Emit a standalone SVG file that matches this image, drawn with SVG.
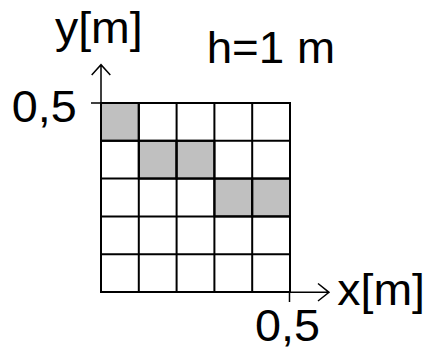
<svg xmlns="http://www.w3.org/2000/svg" width="430" height="348" viewBox="0 0 430 348">
<style>
text{font-family:"Liberation Sans",Arial,sans-serif;font-size:44px;fill:#000}
.cell{fill:#fff;stroke:#000;stroke-width:2}
.g{fill:#c0c0c0}
.ax{fill:none;stroke:#000;stroke-width:1.5}
</style>
<rect width="430" height="348" fill="#fff"/>
<g id="grid">
<rect class="cell" x="101" y="103" width="189" height="189"/>
<rect class="cell g" x="101" y="103" width="37.8" height="37.8"/>
<rect class="cell g" x="138.8" y="140.8" width="37.8" height="37.8"/>
<rect class="cell g" x="176.6" y="140.8" width="37.8" height="37.8"/>
<rect class="cell g" x="214.4" y="178.6" width="37.8" height="37.8"/>
<rect class="cell g" x="252.2" y="178.6" width="37.8" height="37.8"/>
<path fill="none" stroke="#000" stroke-width="2" d="M138.8 103V292M176.6 103V292M214.4 103V292M252.2 103V292M101 140.8H290M101 178.6H290M101 216.4H290M101 254.2H290"/>
</g>
<g id="axes">
<path class="ax" d="M101 292V65M91.7 75L101 64.7L110.3 75"/>
<path class="ax" d="M91 103H101"/>
<path class="ax" d="M101 292.3H329M318 283.5L329 292.3L318 301"/>
<path class="ax" d="M289.5 292V302"/>
</g>
<g id="labels">
<text x="55" y="42.7" textLength="87.7" lengthAdjust="spacingAndGlyphs">y[m]</text>
<text x="206.7" y="63.3" textLength="128.3" lengthAdjust="spacingAndGlyphs">h=1 m</text>
<text x="11.7" y="121.7" textLength="65" lengthAdjust="spacingAndGlyphs">0,5</text>
<text x="337.3" y="305" textLength="87.7" lengthAdjust="spacingAndGlyphs">x[m]</text>
<text x="255" y="340.5" textLength="65" lengthAdjust="spacingAndGlyphs">0,5</text>
</g>
</svg>
